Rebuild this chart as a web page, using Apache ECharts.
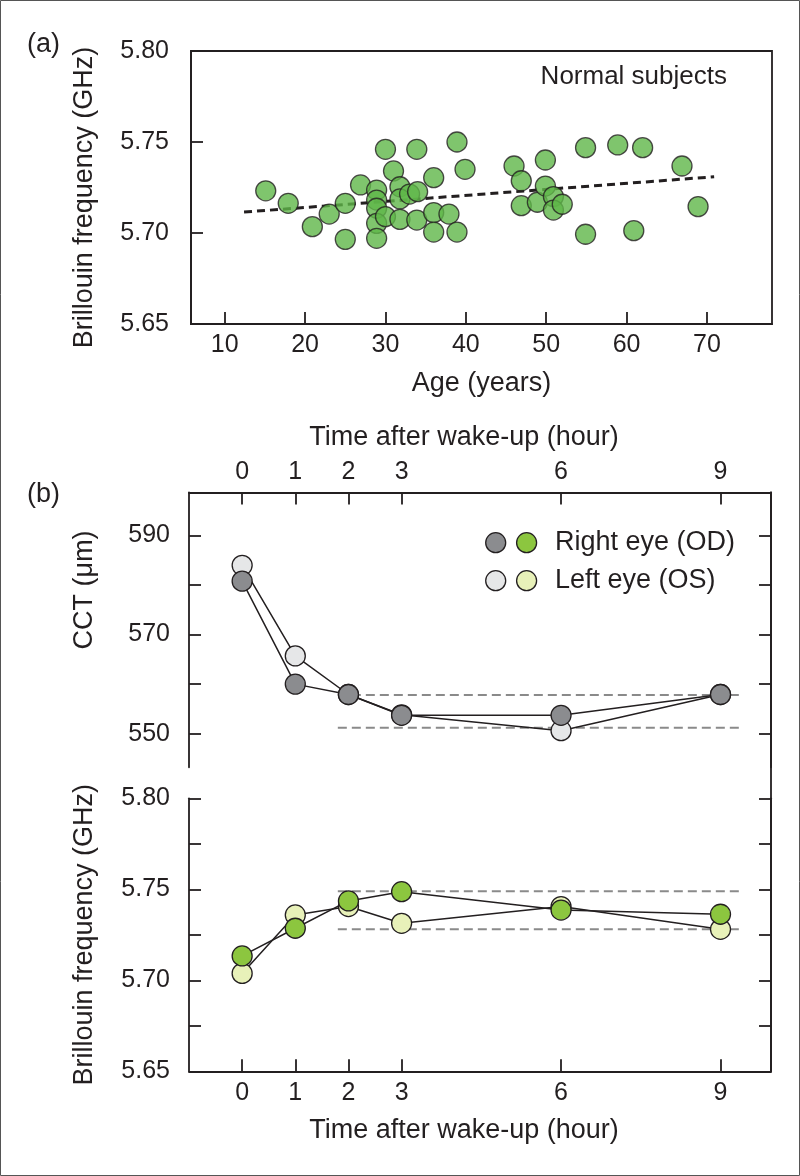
<!DOCTYPE html>
<html>
<head>
<meta charset="utf-8">
<script src="https://cdn.jsdelivr.net/npm/echarts@6/dist/echarts.min.js"></script>
<style>
html,body{margin:0;padding:0;background:#fff;}
#chart{width:800px;height:1176px;}
</style>
</head>
<body>
<div id="chart"></div>
<script>
// ---------- Panel (a) data ----------
const ages = [15.1, 17.9, 20.9, 23.0, 25.0, 25.0, 26.9, 28.9, 28.9, 28.9, 28.9, 28.9, 30.0, 30.0, 31.0, 31.8, 31.8, 31.8, 33.0, 33.9, 34.0, 33.9, 36.0, 36.0, 36.0, 37.9, 38.9, 38.9, 39.9, 46.0, 46.9, 46.9, 48.9, 49.9, 49.9, 50.9, 50.9, 52.0, 54.9, 54.9, 58.9, 62.0, 60.9, 66.9, 68.9];
const freqs = [5.7232, 5.7163, 5.7035, 5.7104, 5.7163, 5.6965, 5.7264, 5.7236, 5.7181, 5.7136, 5.7053, 5.6971, 5.7460, 5.7090, 5.7341, 5.7254, 5.7187, 5.7075, 5.7214, 5.7460, 5.7227, 5.7071, 5.7304, 5.7112, 5.7005, 5.7104, 5.7500, 5.7005, 5.7350, 5.7368, 5.7287, 5.7150, 5.7169, 5.7401, 5.7258, 5.7200, 5.7126, 5.7158, 5.7469, 5.6993, 5.7484, 5.7469, 5.7013, 5.7368, 5.7145];
const fitX = [12.4, 70.9];
const fitY = [5.7115, 5.7309];
const ageTicks = [10, 20, 30, 40, 50, 60, 70];
const freqTicksA = [5.70, 5.75];
const freqLabels = [5.65, 5.70, 5.75, 5.80];

// ---------- Panel (b) data ----------
const hours = [0, 1, 2, 3, 6, 9];
const cctOD = [580.8, 560.0, 557.9, 553.7, 553.7, 557.9];
const cctOS = [584.0, 565.7, 557.9, 553.8, 550.6, 557.9];
const bfOD = [5.7134, 5.7286, 5.7436, 5.7487, 5.7386, 5.7363];
const bfOS = [5.7038, 5.7359, 5.7405, 5.7313, 5.7405, 5.7280];
const cctRefLevels = [557.8, 551.2];
const bfRefLevels = [5.7489, 5.7280];
const refSpan = [1.8, 9.4];
const hourTicks = [0, 1, 2, 3, 6, 9];
const cctTicks = [550, 560, 570, 580, 590];
const cctLabels = [550, 570, 590];
const bfTicks = [5.675, 5.70, 5.725, 5.75, 5.775, 5.80];

const INK = '#231f20';
const FONT = 'Liberation Sans, Arial, sans-serif';
const tickFS = 25, titleFS = 27;

const pair = (xs, ys) => xs.map((x, i) => [x, ys[i]]);

function valAxis(o) {
  return Object.assign({
    type: 'value',
    splitLine: { show: false },
    axisLine: { show: true, onZero: false, lineStyle: { color: INK, width: 1.8 } },
    axisTick: { show: true, inside: true, length: 12, lineStyle: { color: INK, width: 1.8 } },
    axisLabel: { show: true, color: INK, fontSize: tickFS, fontFamily: FONT },
    nameTextStyle: { color: INK, fontSize: titleFS, fontFamily: FONT },
    nameLocation: 'middle'
  }, o);
}
const tick = vals => ({ show: true, inside: true, length: 12, customValues: vals, lineStyle: { color: INK, width: 1.8 } });

const chart = echarts.init(document.getElementById('chart'), null, { renderer: 'canvas' });

const markerBorder = { borderColor: INK, borderWidth: 1.3 };

const option = {
  animation: false,
  backgroundColor: '#fff',
  grid: [
    { left: 191, top: 51, width: 581, height: 273, show: true, borderColor: INK, borderWidth: 1.8, backgroundColor: 'transparent' },
    { left: 189, top: 492.5, width: 582, height: 274.8 },
    { left: 189, top: 798.3, width: 582, height: 273 },
    { left: 189, top: 492.5, width: 582, height: 578.8 }
  ],
  xAxis: [
    valAxis({ gridIndex: 0, min: 5.8, max: 78.1, position: 'bottom', axisTick: tick(ageTicks),
      axisLabel: { color: INK, fontSize: tickFS, fontFamily: FONT, margin: 9, customValues: ageTicks },
      name: 'Age (years)', nameGap: 46 }),
    valAxis({ gridIndex: 1, min: -1, max: 9.95, position: 'top', axisTick: tick(hourTicks),
      axisLabel: { color: INK, fontSize: tickFS, fontFamily: FONT, margin: 8, customValues: hourTicks },
      name: 'Time after wake-up (hour)', nameGap: 41,
      nameTextStyle: { color: INK, fontSize: titleFS, fontFamily: FONT, padding: [0, 32, 0, 0] } }),
    valAxis({ gridIndex: 2, min: -1, max: 9.95, position: 'bottom', axisTick: tick(hourTicks),
      axisLabel: { color: INK, fontSize: tickFS, fontFamily: FONT, margin: 9, customValues: hourTicks },
      name: 'Time after wake-up (hour)', nameGap: 46,
      nameTextStyle: { color: INK, fontSize: titleFS, fontFamily: FONT, padding: [0, 32, 0, 0] } }),
    { gridIndex: 3, type: 'value', min: 0, max: 1, show: false }
  ],
  yAxis: [
    valAxis({ gridIndex: 0, min: 5.65, max: 5.80, position: 'left', axisTick: tick(freqTicksA),
      axisLabel: { color: INK, fontSize: tickFS, fontFamily: FONT, margin: 22, customValues: freqLabels, formatter: v => v.toFixed(2) },
      name: 'Brillouin frequency (GHz)', nameRotate: 90, nameGap: 93,
      nameTextStyle: { color: INK, fontSize: titleFS, fontFamily: FONT, padding: [0, 20, 0, 0] } }),
    valAxis({ gridIndex: 1, min: 543.2, max: 598.7, position: 'left', axisTick: tick(cctTicks),
      axisLabel: { color: INK, fontSize: tickFS, fontFamily: FONT, margin: 19, customValues: cctLabels, formatter: v => String(Math.round(v)) },
      name: 'CCT (μm)', nameRotate: 90, nameGap: 91,
      nameTextStyle: { color: INK, fontSize: titleFS, fontFamily: FONT, padding: [0, 0, 0, 80] } }),
    valAxis({ gridIndex: 1, min: 543.2, max: 598.7, position: 'right', axisTick: tick(cctTicks),
      axisLabel: { show: false } }),
    valAxis({ gridIndex: 2, min: 5.65, max: 5.80, position: 'left', axisTick: tick(bfTicks),
      axisLabel: { color: INK, fontSize: tickFS, fontFamily: FONT, margin: 19, customValues: freqLabels, formatter: v => v.toFixed(2) },
      name: 'Brillouin frequency (GHz)', nameRotate: 90, nameGap: 91 }),
    valAxis({ gridIndex: 2, min: 5.65, max: 5.80, position: 'right', axisTick: tick(bfTicks),
      axisLabel: { show: false } }),
    { gridIndex: 3, type: 'value', min: 0, max: 1, position: 'right', splitLine: { show: false },
      axisLine: { show: true, onZero: false, lineStyle: { color: INK, width: 1.8 } }, axisTick: { show: false }, axisLabel: { show: false } }
  ],
  series: [
    { name: 'Fit', type: 'line', xAxisIndex: 0, yAxisIndex: 0, data: pair(fitX, fitY), showSymbol: false, symbol: 'none',
      lineStyle: { color: INK, width: 3, type: [8, 5] }, z: 1 },
    { name: 'Normal subjects', type: 'scatter', xAxisIndex: 0, yAxisIndex: 0, data: pair(ages, freqs), symbol: 'circle', symbolSize: 20,
      itemStyle: Object.assign({ color: '#5fb648' }, markerBorder), z: 2 },

    ...cctRefLevels.map((lv, i) => ({ name: 'cctRef' + i, type: 'line', xAxisIndex: 1, yAxisIndex: 1,
      data: refSpan.map(x => [x, lv]), symbol: 'none', lineStyle: { color: '#8a8a8a', width: 2, type: [9, 5] }, z: 1 })),
    { name: 'Left eye (OS) CCT', type: 'line', xAxisIndex: 1, yAxisIndex: 1, data: pair(hours, cctOS), symbol: 'circle', symbolSize: 20,
      lineStyle: { color: INK, width: 1.5 }, itemStyle: Object.assign({ color: '#e6e7e8' }, markerBorder), z: 2 },
    { name: 'Right eye (OD) CCT', type: 'line', xAxisIndex: 1, yAxisIndex: 1, data: pair(hours, cctOD), symbol: 'circle', symbolSize: 20,
      lineStyle: { color: INK, width: 1.5 }, itemStyle: Object.assign({ color: '#8b8c8f' }, markerBorder), z: 3 },

    ...bfRefLevels.map((lv, i) => ({ name: 'bfRef' + i, type: 'line', xAxisIndex: 2, yAxisIndex: 3,
      data: refSpan.map(x => [x, lv]), symbol: 'none', lineStyle: { color: '#8a8a8a', width: 2, type: [9, 5] }, z: 1 })),
    { name: 'Left eye (OS) BF', type: 'line', xAxisIndex: 2, yAxisIndex: 3, data: pair(hours, bfOS), symbol: 'circle', symbolSize: 20,
      lineStyle: { color: INK, width: 1.5 }, itemStyle: Object.assign({ color: '#e8f1b9' }, markerBorder), z: 2 },
    { name: 'Right eye (OD) BF', type: 'line', xAxisIndex: 2, yAxisIndex: 3, data: pair(hours, bfOD), symbol: 'circle', symbolSize: 20,
      lineStyle: { color: INK, width: 1.5 }, itemStyle: Object.assign({ color: '#8cc63f' }, markerBorder), z: 3 }
  ],
  graphic: [
    { type: 'rect', shape: { x: 0.5, y: 0.5, width: 799, height: 1175 }, style: { fill: 'none', stroke: '#555', lineWidth: 1 }, silent: true },
    { type: 'text', left: 27, top: 31, style: { text: '(a)', fontSize: 27, fontFamily: FONT, fill: INK } },
    { type: 'text', left: 27, top: 481, style: { text: '(b)', fontSize: 27, fontFamily: FONT, fill: INK } },
    { type: 'text', x: 727, y: 77, style: { text: 'Normal subjects', fontSize: 26, fontFamily: FONT, fill: INK, align: 'right', verticalAlign: 'middle' } },
    { type: 'circle', shape: { cx: 495.7, cy: 542.7, r: 10 }, style: { fill: '#8b8c8f', stroke: INK, lineWidth: 1.3 } },
    { type: 'circle', shape: { cx: 526.6, cy: 542.7, r: 10 }, style: { fill: '#8cc63f', stroke: INK, lineWidth: 1.3 } },
    { type: 'circle', shape: { cx: 495.7, cy: 580.7, r: 10 }, style: { fill: '#e6e7e8', stroke: INK, lineWidth: 1.3 } },
    { type: 'circle', shape: { cx: 526.6, cy: 580.7, r: 10 }, style: { fill: '#e8f1b9', stroke: INK, lineWidth: 1.3 } },
    { type: 'text', x: 555, y: 542.7, style: { text: 'Right eye (OD)', fontSize: 27, fontFamily: FONT, fill: INK, verticalAlign: 'middle' } },
    { type: 'text', x: 555, y: 580.7, style: { text: 'Left eye (OS)', fontSize: 27, fontFamily: FONT, fill: INK, verticalAlign: 'middle' } }
  ]
};

chart.setOption(option);
</script>
</body>
</html>
